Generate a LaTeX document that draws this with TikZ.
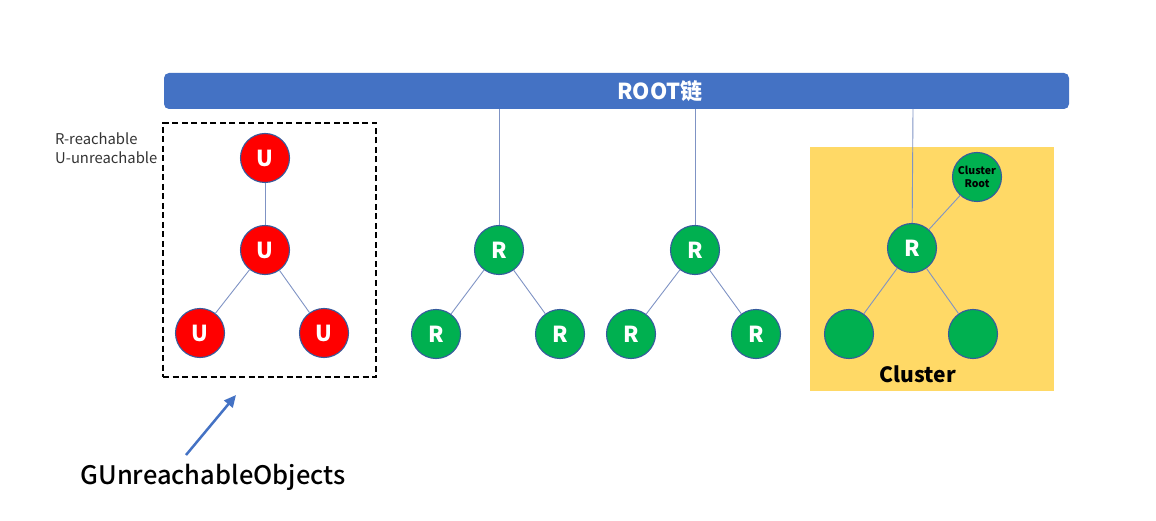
\documentclass[tikz,border=0pt]{standalone}
\usepackage{fontspec}
\setmainfont{Noto Sans CJK SC}
\newfontfamily\medfont{Noto Sans CJK SC Medium}
\usetikzlibrary{arrows.meta}
\definecolor{barblue}{HTML}{4472C4}
\definecolor{redfill}{HTML}{FF0000}
\definecolor{greenfill}{HTML}{00B050}
\definecolor{clusteryellow}{HTML}{FFD966}
\definecolor{edgeblue}{HTML}{7F93C4}
\tikzset{
  x=1pt, y=-1pt,
  obj/.style={circle, minimum size=49pt, inner sep=0pt, draw=barblue!80!black, line width=1.1pt,
    text=white, font=\fontsize{22}{24}\selectfont\bfseries},
  unode/.style={obj, fill=redfill},
  rnode/.style={obj, fill=greenfill},
  edge/.style={draw=edgeblue, line width=0.9pt},
}
\begin{document}
\begin{tikzpicture}
\useasboundingbox (0,0) rectangle (1156,521);
% ROOT bar
\node[fill=barblue, rounded corners=5pt, minimum width=905pt, minimum height=36pt, inner sep=0pt] (bar) at (616.5,91) {};
\node[text=white, font=\fontsize{22}{24}\selectfont\bfseries, inner sep=0pt] (bartext) at (660,91) {ROOT链};
% legend
\node[anchor=west, inner sep=0pt, align=left, font=\fontsize{14.8}{19.5}\selectfont, text=black!80] (legend) at (55,148) {R-reachable\\U-unreachable};
% dashed box
\node[draw, dash pattern=on 6pt off 3.5pt, line width=1.3pt, minimum width=213pt, minimum height=254pt, inner sep=0pt] (ubox) at (269.5,250) {};
% cluster background
\node[fill=clusteryellow, minimum width=244pt, minimum height=244pt, inner sep=0pt] (cbox) at (932,269) {};
% U tree
\node[unode] (u1) at (265,158) {U};
\node[unode] (u2) at (265,250) {U};
\node[unode] (u3) at (200,333) {U};
\node[unode] (u4) at (324,333) {U};
\draw[edge] (u1) -- (u2);
\draw[edge] (u2) -- (u3);
\draw[edge] (u2) -- (u4);
% tree 2
\node[rnode] (a1) at (499,250) {R};
\node[rnode] (a2) at (436,334) {R};
\node[rnode] (a3) at (560,334) {R};
\coordinate (a0) at (499,109);
\draw[edge] (a0) -- (a1);
\draw[edge] (a1) -- (a2);
\draw[edge] (a1) -- (a3);
% tree 3
\node[rnode] (b1) at (695,250) {R};
\node[rnode] (b2) at (631,334) {R};
\node[rnode] (b3) at (756,334) {R};
\coordinate (b0) at (695,109);
\draw[edge] (b0) -- (b1);
\draw[edge] (b1) -- (b2);
\draw[edge] (b1) -- (b3);
% cluster tree
\node[rnode] (c1) at (912,248) {R};
\node[rnode, font=\fontsize{10.5}{12.5}\selectfont\bfseries, text=black, align=center] (cr) at (977,177) {Cluster\\Root};
\node[rnode] (c2) at (849,334) {};
\node[rnode] (c3) at (973,334) {};
\coordinate (c0) at (913,109);
\draw[edge] (c0) -- (c1);
\draw[edge] (c1) -- (cr);
\draw[edge] (c1) -- (c2);
\draw[edge] (c1) -- (c3);
\node[font=\fontsize{21}{24}\selectfont\bfseries, text=black, inner sep=0pt] (clabel) at (918,374) {Cluster};
% pointer
\node[font=\fontsize{25.5}{28}\medfont, text=black, inner sep=0pt] (glabel) at (213,477) {GUnreachableObjects};
\coordinate (gtip) at (236,395);
\coordinate (gtail) at (186,455);
\draw[draw=barblue, line width=2.5pt, -{Triangle[length=12pt,width=11pt]}] (gtail) -- (gtip);
\end{tikzpicture}
\end{document}
